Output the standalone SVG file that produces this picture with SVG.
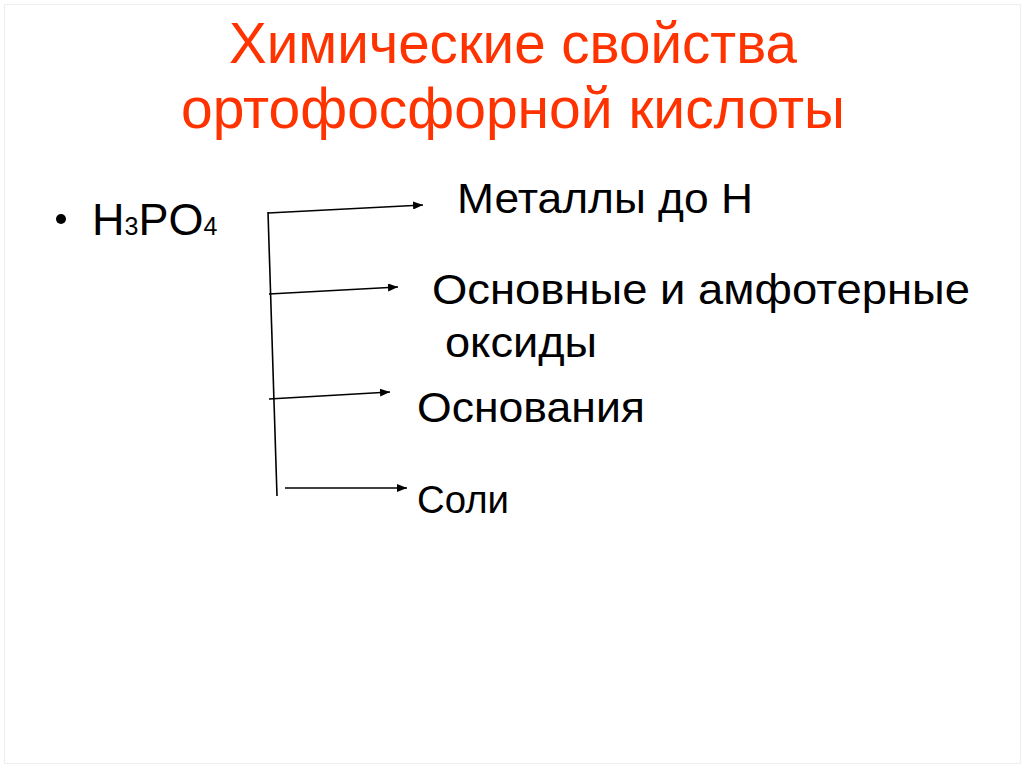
<svg xmlns="http://www.w3.org/2000/svg" width="1024" height="767" viewBox="0 0 1024 767">
<defs>
<style>
.t{font-family:"Liberation Sans",Arial,sans-serif;fill:#000}
.title{font-family:"Liberation Sans",Arial,sans-serif;fill:#ff3300;font-size:57px}
.c{stroke:#000;stroke-width:1.6;fill:none}
</style>
<marker id="ah" viewBox="0 0 10 8" refX="10" refY="4" markerWidth="10" markerHeight="8" markerUnits="userSpaceOnUse" orient="auto">
<path d="M0,0 L10,4 L0,8 Z" fill="#000"/>
</marker>
</defs>
<rect x="0" y="0" width="1024" height="767" fill="#fff"/>
<rect x="4.5" y="4.5" width="1016" height="759" fill="none" stroke="#eeeeee" stroke-width="1"/>
<g id="title">
<text class="title" x="229" y="63" textLength="568" lengthAdjust="spacingAndGlyphs">Химические свойства</text>
<text class="title" x="181" y="128" textLength="664" lengthAdjust="spacingAndGlyphs">ортофосфорной кислоты</text>
</g>
<g id="h3po4">
<circle cx="61" cy="219" r="5" fill="#000"/>
<text class="t" x="92" y="235" font-size="45">H<tspan font-size="25">3</tspan>PO<tspan font-size="25">4</tspan></text>
</g>
<g id="n1"><text class="t" x="457" y="213" font-size="42" textLength="296" lengthAdjust="spacingAndGlyphs">Металлы до Н</text></g>
<g id="n2">
<text class="t" x="432" y="304" font-size="42" textLength="538" lengthAdjust="spacingAndGlyphs">Основные и амфотерные</text>
<text class="t" x="445" y="357" font-size="42" textLength="152" lengthAdjust="spacingAndGlyphs">оксиды</text>
</g>
<g id="n3"><text class="t" x="417" y="422" font-size="42" textLength="228" lengthAdjust="spacingAndGlyphs">Основания</text></g>
<g id="n4"><text class="t" x="417" y="513" font-size="38" textLength="92" lengthAdjust="spacingAndGlyphs">Соли</text></g>
<g id="connectors">
<line class="c" x1="268" y1="212" x2="277" y2="496"/>
<line class="c" x1="268" y1="213" x2="423" y2="205" marker-end="url(#ah)"/>
<line class="c" x1="269" y1="294" x2="398" y2="287" marker-end="url(#ah)"/>
<line class="c" x1="269" y1="399" x2="390" y2="392" marker-end="url(#ah)"/>
<line class="c" x1="285" y1="488" x2="407" y2="488" marker-end="url(#ah)"/>
</g>
</svg>
